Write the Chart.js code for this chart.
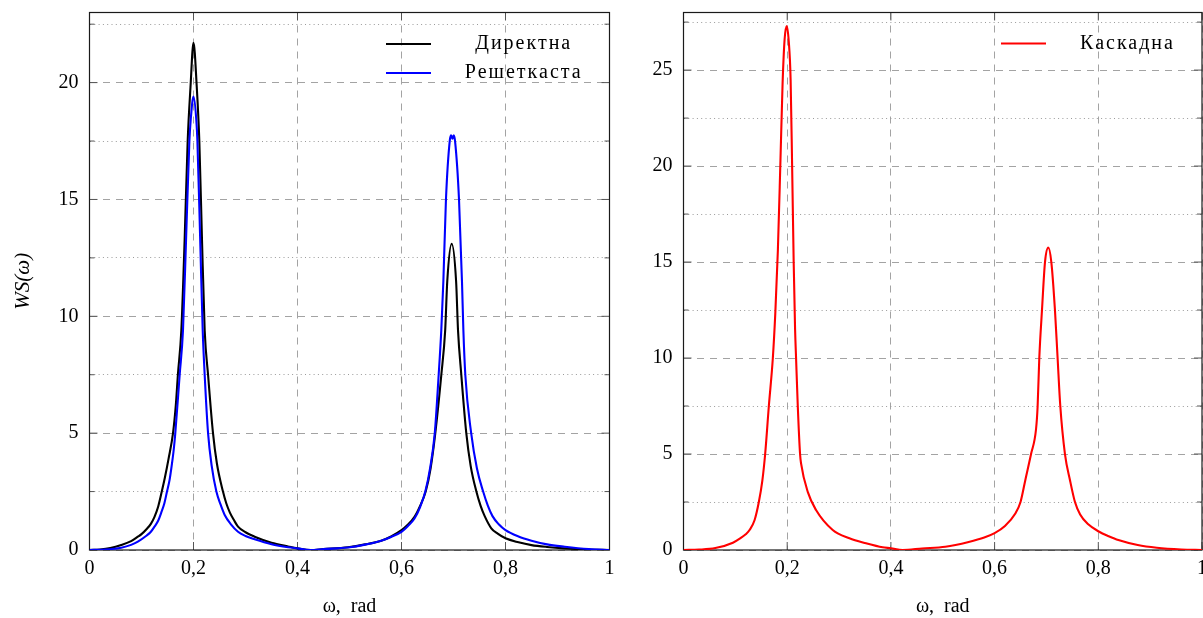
<!DOCTYPE html>
<html>
<head>
<meta charset="utf-8">
<script src="https://cdn.jsdelivr.net/npm/chart.js@4.4.1/dist/chart.umd.min.js"></script>
<style>
  html, body { margin: 0; padding: 0; background: #fff; }
  #wrap { position: relative; width: 1203px; height: 618px; overflow: hidden; }
  #left { position: absolute; left: 0; top: 0; width: 632px; height: 618px; }
  #right { position: absolute; left: 632px; top: 0; width: 571px; height: 618px; }
</style>
</head>
<body>
<div id="wrap">
  <canvas id="left" width="632" height="618"></canvas>
  <canvas id="right" width="571" height="618"></canvas>
</div>
<script>
// ---- spectra WS(ω) ----
// Директна
const wDirect = [0, 0.02, 0.04, 0.061, 0.08, 0.093, 0.1, 0.11, 0.118, 0.125, 0.132, 0.139, 0.145, 0.152, 0.1606, 0.166, 0.17, 0.1766, 0.183, 0.1888, 0.1942, 0.2, 0.2063, 0.2112, 0.2163, 0.2215, 0.228, 0.2375, 0.245, 0.2567, 0.263, 0.27, 0.278, 0.2856, 0.3, 0.3176, 0.35, 0.382, 0.4, 0.425, 0.45, 0.497, 0.53, 0.561, 0.58, 0.6, 0.612, 0.625, 0.636, 0.6465, 0.656, 0.665, 0.6766, 0.684, 0.688, 0.6965, 0.705, 0.7087, 0.715, 0.7246, 0.733, 0.744, 0.752, 0.76, 0.7727, 0.785, 0.8, 0.825, 0.85, 0.88, 0.914, 0.96, 1.0];
const sDirect = [0, 0.02, 0.08, 0.21, 0.38, 0.57, 0.68, 0.9, 1.12, 1.42, 1.85, 2.5, 3.1, 3.9, 5.0, 6.2, 7.5, 9.4, 13.3, 17.5, 19.8, 21.7, 19.8, 17.5, 13.3, 9.4, 7.5, 5.0, 3.7, 2.5, 2.0, 1.6, 1.27, 1.0, 0.76, 0.57, 0.31, 0.15, 0.07, 0.0, 0.04, 0.12, 0.24, 0.4, 0.58, 0.85, 1.08, 1.42, 1.9, 2.5, 3.5, 5.0, 7.5, 9.4, 11.5, 13.1, 11.5, 9.4, 7.5, 5.0, 3.6, 2.5, 1.9, 1.45, 0.93, 0.7, 0.5, 0.33, 0.21, 0.13, 0.07, 0.02, 0];

// Решеткаста
const wLattice = [0, 0.03, 0.061, 0.08, 0.093, 0.11, 0.118, 0.125, 0.132, 0.138, 0.144, 0.149, 0.154, 0.158, 0.162, 0.165, 0.1734, 0.1798, 0.186, 0.1921, 0.1946, 0.2, 0.2054, 0.2075, 0.2126, 0.2177, 0.2215, 0.228, 0.235, 0.244, 0.252, 0.26, 0.272, 0.2856, 0.3, 0.3176, 0.35, 0.382, 0.4, 0.425, 0.45, 0.497, 0.53, 0.561, 0.58, 0.6, 0.612, 0.625, 0.636, 0.6458, 0.655, 0.664, 0.6715, 0.6765, 0.6805, 0.6855, 0.693, 0.6955, 0.698, 0.7005, 0.703, 0.7106, 0.7163, 0.719, 0.7227, 0.734, 0.745, 0.757, 0.766, 0.775, 0.787, 0.8, 0.825, 0.85, 0.88, 0.914, 0.96, 1.0];
const sLattice = [0, 0.02, 0.1, 0.22, 0.36, 0.62, 0.78, 1.0, 1.25, 1.6, 2.0, 2.5, 3.0, 3.6, 4.3, 5.0, 7.5, 9.4, 13.5, 17.5, 18.4, 19.4, 18.4, 17.5, 13.5, 9.4, 7.5, 5.0, 3.6, 2.5, 1.95, 1.5, 1.1, 0.78, 0.6, 0.46, 0.25, 0.12, 0.07, 0.0, 0.04, 0.11, 0.23, 0.4, 0.56, 0.78, 1.02, 1.35, 1.85, 2.5, 3.5, 5.0, 7.5, 9.4, 11.5, 15.0, 17.55, 17.75, 17.6, 17.75, 17.5, 15.0, 11.5, 9.4, 7.5, 5.0, 3.5, 2.5, 1.9, 1.45, 1.1, 0.85, 0.58, 0.4, 0.24, 0.14, 0.04, 0];

// Каскадна
const wCascade = [0, 0.03, 0.0614, 0.0953, 0.11, 0.12, 0.1274, 0.137, 0.1453, 0.152, 0.1575, 0.1646, 0.1723, 0.177, 0.182, 0.187, 0.1911, 0.195, 0.199, 0.203, 0.2066, 0.2095, 0.2125, 0.2152, 0.2171, 0.2204, 0.2248, 0.2268, 0.24, 0.2556, 0.2878, 0.32, 0.352, 0.384, 0.4, 0.4225, 0.46, 0.505, 0.55, 0.58, 0.6, 0.62, 0.64, 0.65, 0.6593, 0.6703, 0.6799, 0.683, 0.6862, 0.6914, 0.6972, 0.7036, 0.7094, 0.7164, 0.7215, 0.7267, 0.7357, 0.7453, 0.755, 0.765, 0.78, 0.8017, 0.82, 0.8387, 0.876, 0.9128, 0.96, 1.0];
const sCascade = [0, 0.02, 0.1, 0.38, 0.62, 0.82, 1.04, 1.55, 2.5, 3.6, 5.0, 7.5, 10.0, 12.3, 15.6, 20.3, 24.3, 26.6, 27.3, 26.5, 24.5, 20.0, 15.0, 11.5, 10.0, 7.5, 5.0, 4.5, 3.0, 2.08, 1.04, 0.61, 0.35, 0.14, 0.09, 0.0, 0.08, 0.17, 0.42, 0.65, 0.88, 1.25, 1.9, 2.5, 3.65, 5.0, 6.29, 7.5, 10.0, 12.5, 15.0, 15.75, 15.0, 12.5, 10.0, 7.5, 5.0, 3.65, 2.5, 1.85, 1.35, 0.95, 0.72, 0.52, 0.26, 0.12, 0.03, 0];

// axis ticks and labels
const xTicks = [0, 0.2, 0.4, 0.6, 0.8, 1];
const xTickLabels = ['0', '0,2', '0,4', '0,6', '0,8', '1'];
const yTicksLeft = [0, 5, 10, 15, 20];
const yMinorLeft = [2.5, 7.5, 12.5, 17.5, 22.5];
const yTicksRight = [0, 5, 10, 15, 20, 25];
const yMinorRight = [2.5, 7.5, 12.5, 17.5, 22.5, 27.5];

const FONT = "'Liberation Serif', 'DejaVu Serif', serif";
const DASH_GRID = '#a3a3a3';
const DOT_GRID = '#9a9a9a';

const points = (ws, vs) => ws.map((w, i) => ({ x: w, y: vs[i] }));

// frame around the plot area, with inward tick marks on every side
const axisFrame = {
  id: 'axisFrame',
  beforeDatasetsDraw(chart) {
    const { ctx, chartArea: a, scales } = chart;
    ctx.save();
    ctx.strokeStyle = '#555';
    ctx.lineWidth = 1;
    ctx.beginPath();
    const major = 8, minor = 5;
    scales.x.ticks.forEach(t => {
      const p = scales.x.getPixelForValue(t.value);
      ctx.moveTo(p, a.bottom); ctx.lineTo(p, a.bottom - major);
      ctx.moveTo(p, a.top); ctx.lineTo(p, a.top + major);
    });
    const yTickMarks = (scale, len) => scale.ticks.forEach(t => {
      const p = scale.getPixelForValue(t.value);
      ctx.moveTo(a.left, p); ctx.lineTo(a.left + len, p);
      ctx.moveTo(a.right, p); ctx.lineTo(a.right - len, p);
    });
    yTickMarks(scales.y, major);
    yTickMarks(scales.ym, minor);
    ctx.stroke();
    ctx.strokeStyle = '#1a1a1a';
    ctx.lineWidth = 1.2;
    ctx.strokeRect(a.left, a.top, a.right - a.left, a.bottom - a.top);
    ctx.restore();
  }
};

// legend sits inside the plot area, near its top-right corner
const legendPlacement = {
  id: 'legendPlacement',
  afterUpdate(chart, args, opts) {
    const lg = chart.legend;
    if (!lg) return;
    lg.left = opts.left;
    lg.top = opts.top;
    lg.right = chart.chartArea.right - opts.inset;
    lg.width = lg.right - lg.left;
    lg.bottom = lg.top + 120;
    lg.height = 120;
    if (!lg._spacedText) {
      const baseDraw = lg.draw;
      lg.draw = function (...a) {
        const c = this.ctx;
        c.save();
        c.letterSpacing = '2px';
        baseDraw.apply(this, a);
        c.restore();
      };
      lg._spacedText = true;
    }
  }
};

function makeChart(canvas, cfg) {
  return new Chart(canvas, {
    type: 'line',
    data: { datasets: cfg.datasets },
    plugins: [axisFrame, legendPlacement],
    options: {
      responsive: false,
      animation: false,
      events: [],
      layout: { padding: { left: 0, right: cfg.padRight, top: 12.5, bottom: 0 } },
      elements: { point: { radius: 0 }, line: { borderWidth: 2.1, cubicInterpolationMode: 'monotone' } },
      scales: {
        x: {
          type: 'linear', min: 0, max: 1,
          afterBuildTicks: s => { s.ticks = xTicks.map(v => ({ value: v })); },
          afterFit: s => { s.height = 68; s.paddingLeft = 0; s.paddingRight = 0; },
          ticks: {
            autoSkip: false, maxRotation: 0, padding: 7, color: '#000',
            font: { family: FONT, size: 20 },
            callback: (v, i) => xTickLabels[i]
          },
          grid: { color: DASH_GRID, lineWidth: 1, drawTicks: false },
          border: { display: false, dash: [7, 6] },
          title: {
            display: true, text: 'ω,  rad', color: '#000',
            font: { family: FONT, size: 20, lineHeight: 1 },
            padding: { top: 0, bottom: 1.5 }
          }
        },
        y: {
          type: 'linear', position: 'left', min: 0, max: cfg.yMax,
          afterBuildTicks: s => { s.ticks = cfg.yTicks.map(v => ({ value: v })); },
          afterFit: s => { s.width = cfg.yWidth; s.paddingTop = 0; s.paddingBottom = 0; },
          ticks: { padding: 11, color: '#000', font: { family: FONT, size: 20 } },
          grid: { color: DASH_GRID, lineWidth: 1, drawTicks: false },
          border: { display: false, dash: [7, 6] },
          title: cfg.yTitle ? {
            display: true, text: cfg.yTitle, color: '#000',
            font: { family: FONT, size: 21, style: 'italic', lineHeight: 1 },
            padding: { top: 12.5, bottom: 0 }
          } : { display: false }
        },
        ym: {
          type: 'linear', position: 'left', min: 0, max: cfg.yMax,
          afterBuildTicks: s => { s.ticks = cfg.yMinor.map(v => ({ value: v })); },
          afterFit: s => { s.width = 0; s.paddingTop = 0; s.paddingBottom = 0; },
          ticks: { display: false },
          grid: { color: DOT_GRID, lineWidth: 1, drawTicks: false },
          border: { display: false, dash: [1, 3.3] }
        }
      },
      plugins: {
        tooltip: { enabled: false },
        legend: {
          position: 'chartArea',
          fullSize: false,
          align: 'start',
          labels: {
            boxWidth: 45, boxHeight: 0, padding: 9,
            textAlign: 'center', color: '#000',
            font: { family: FONT, size: 20 },
            sort: (a, b) => a.datasetIndex - b.datasetIndex
          }
        },
        legendPlacement: cfg.legend
      }
    }
  });
}

makeChart(document.getElementById('left'), {
  padRight: 22.5, yWidth: 89.5, yMax: 23,
  yTicks: yTicksLeft, yMinor: yMinorLeft, yTitle: 'WS(ω)',
  legend: { left: 377, top: 25, inset: 3 },
  datasets: [
    { label: 'Директна', data: points(wDirect, sDirect), borderColor: '#000000', backgroundColor: '#000000', order: 2 },
    { label: 'Решеткаста', data: points(wLattice, sLattice), borderColor: '#0000ff', backgroundColor: '#0000ff', order: 1 }
  ]
});

makeChart(document.getElementById('right'), {
  padRight: 1, yWidth: 51.5, yMax: 28,
  yTicks: yTicksRight, yMinor: yMinorRight, yTitle: null,
  legend: { left: 360, top: 24.5, inset: 3 },
  datasets: [
    { label: 'Каскадна', data: points(wCascade, sCascade), borderColor: '#ff0000', backgroundColor: '#ff0000' }
  ]
});
</script>
</body>
</html>
